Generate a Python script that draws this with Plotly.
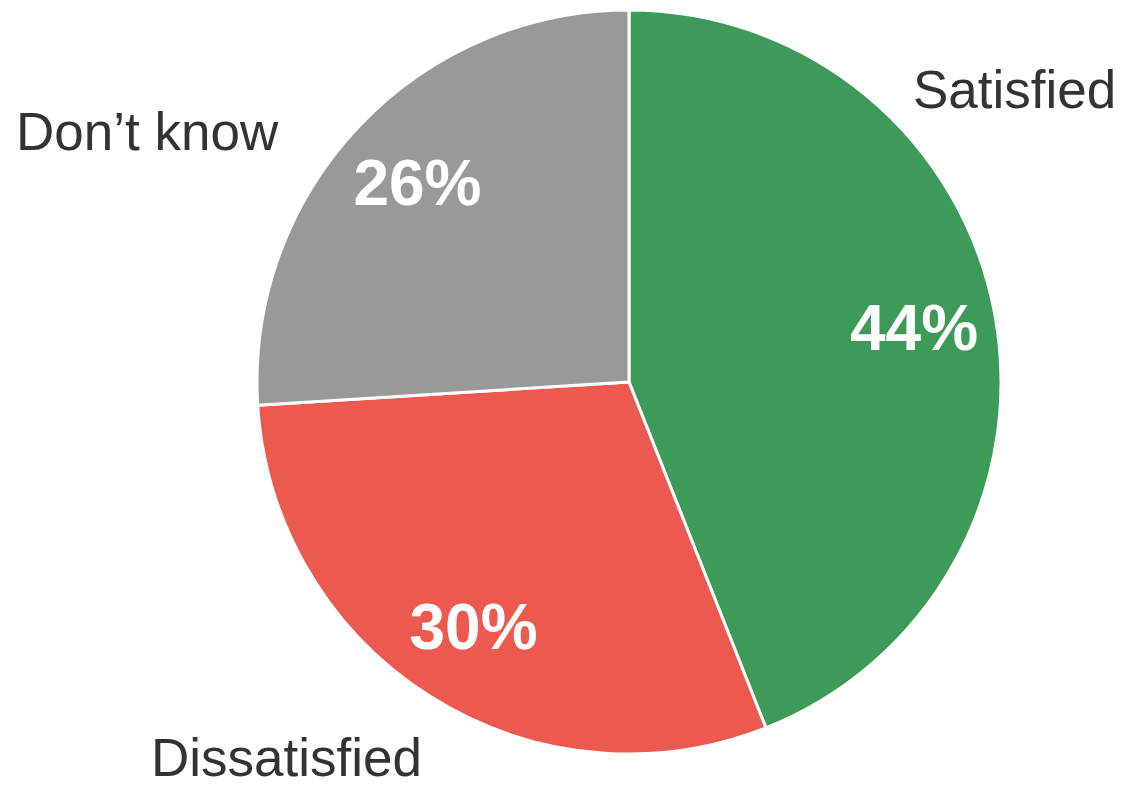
import plotly.graph_objects as go

categories = ["Satisfied", "Dissatisfied", "Don’t know"]
values = [44, 30, 26]
colors = ["#3d9a58", "#ec5a4f", "#999999"]

W, H = 1122, 788
cx, cy, r = 629, 382, 372
domain = dict(x=[(cx - r) / W, (cx + r) / W], y=[(H - cy - r) / H, (H - cy + r) / H])

fig = go.Figure()
fig.add_trace(go.Pie(
    labels=categories,
    values=values,
    sort=False,
    direction="clockwise",
    rotation=0,
    marker=dict(colors=colors, line=dict(color="white", width=3)),
    textinfo="none",
    domain=domain,
    showlegend=False,
    hoverinfo="label+percent",
))
# transparent ring carrying the percentage labels
fig.add_trace(go.Pie(
    labels=categories,
    values=values,
    sort=False,
    direction="clockwise",
    rotation=0,
    hole=0.56,
    marker=dict(colors=["rgba(0,0,0,0)"] * 3, line=dict(width=0)),
    texttemplate="%{percent:.0%}",
    textposition="inside",
    insidetextorientation="horizontal",
    insidetextfont=dict(family="Liberation Sans", size=64, color="white", weight="bold"),
    domain=domain,
    showlegend=False,
    hoverinfo="skip",
))

label_pos = {
    "Satisfied": (1117, 90, "right", "middle"),
    "Don’t know": (15, 132, "left", "middle"),
    "Dissatisfied": (150, 788, "left", "bottom"),
}
for name in categories:
    x, y, xa, ya = label_pos[name]
    fig.add_annotation(
        x=x / W, y=1 - y / H, xref="paper", yref="paper",
        text=name, showarrow=False, xanchor=xa, yanchor=ya, borderpad=0,
        font=dict(family="Liberation Sans", size=53, color="#333333"),
    )

fig.update_layout(
    width=W, height=H,
    margin=dict(l=0, r=0, t=0, b=0),
    paper_bgcolor="white",
    plot_bgcolor="white",
)

fig.write_html("out.html", config={"displayModeBar": False},
               post_script="document.body.style.margin='0';")
